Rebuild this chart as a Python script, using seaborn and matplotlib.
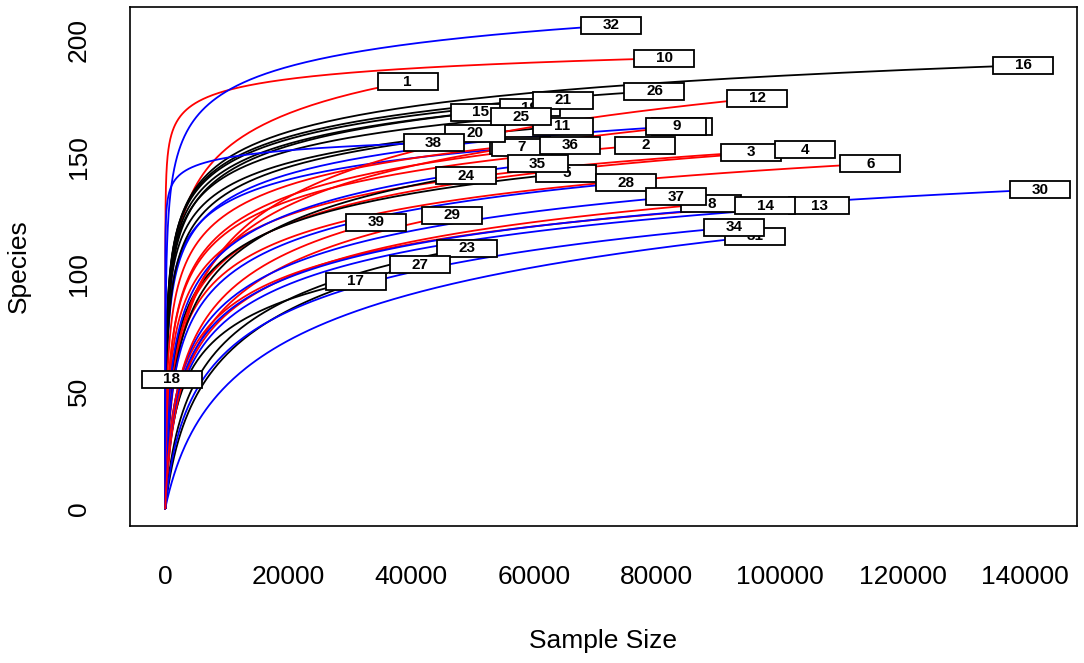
import numpy as np
import pandas as pd
import seaborn as sns
import matplotlib.pyplot as plt
from matplotlib.patches import Rectangle

# sample labels and colour of each rarefaction curve
samples = [str(i) for i in range(1, 40)]
colours = ['red', 'red', 'red', 'red', 'black', 'red', 'blue', 'red', 'blue', 'red',
           'black', 'red', 'blue', 'red', 'black', 'black', 'black', 'red', 'black', 'black',
           'black', 'red', 'black', 'black', 'black', 'black', 'black', 'blue', 'red', 'blue',
           'blue', 'blue', 'red', 'blue', 'blue', 'red', 'blue', 'blue', 'red']

# end point of each curve (total reads, observed species)
total_size = [39460, 78160, 95400, 104180, 65310, 114750, 58000, 88890, 83200, 81250,
              64670, 96370, 106450, 97670, 51330, 139630, 31010, 1090, 59300, 50360,
              64670, 84170, 49050, 48890, 57840, 79630, 41410, 75070, 46620, 142390,
              96050, 72590, 57800, 92640, 60600, 65960, 83200, 43690, 34260]
total_species = [182, 155, 152, 153, 143, 147, 154, 130, 163, 192,
                 163, 175, 129, 129, 169, 189, 97, 55, 171, 160,
                 174, 163, 111, 142, 167, 178, 104, 139, 125, 136,
                 116, 206, 155, 120, 147, 155, 133, 156, 122]

# one point
mid_size = [17000] * 17 + [300] + [17000] * 21
mid_species = [165, 128, 122, 118, 118, 112, 138, 95, 140, 182,
               143, 128, 92, 96, 152, 158, 86, 38, 153, 145,
               155, 125, 85, 118, 150, 156, 80, 110, 100, 95,
               67, 186, 135, 80, 122, 130, 100, 152, 105]

# labels that sit under the others
hidden = ['22', '33']

Q = -0.1


def g(x):
    return ((1 + x) ** Q - 1) / Q


def curve(n_end, s_end, n_mid, s_mid):
    target = s_mid / s_end
    lo, hi = -6.0, 20.0
    for _ in range(200):
        mid = (lo + hi) / 2
        b = np.exp(mid)
        r = g(n_mid / b) / g(n_end / b)
        if r > target:
            lo = mid
        else:
            hi = mid
    b = np.exp((lo + hi) / 2)
    a = s_end / g(n_end / b)
    n = np.concatenate([[0], np.geomspace(1, n_end, 400)])
    return n, a * g(n / b)


rows = []
for name, ne, se, nm, sm in zip(samples, total_size, total_species, mid_size, mid_species):
    n, s = curve(ne, se, nm, sm)
    rows.append(pd.DataFrame({'sample': name, 'size': n, 'species': s}))
curves = pd.concat(rows, ignore_index=True)

sns.set_style('white')
plt.rcParams['font.family'] = ['Liberation Sans', 'DejaVu Sans']
plt.rcParams['text.color'] = 'black'
plt.rcParams['axes.labelcolor'] = 'black'

fig = plt.figure(figsize=(10.84, 6.63), dpi=100)
ax = fig.add_axes([0.1199, 0.2066, 0.8736, 0.7833])

sns.lineplot(data=curves, x='size', y='species', hue='sample',
             palette=dict(zip(samples, colours)), estimator=None, sort=False,
             legend=False, linewidth=1.3, ax=ax)

xlim = (-5740, 148400)
ylim = (-7.5, 214)
ax.set_xlim(*xlim)
ax.set_ylim(*ylim)

# fixed size label boxes (60 x 17 px)
pos = ax.get_position()
bw = 60 / (fig.get_figwidth() * fig.dpi * pos.width) * (xlim[1] - xlim[0])
bh = 17 / (fig.get_figheight() * fig.dpi * pos.height) * (ylim[1] - ylim[0])
order = hidden + [s for s in samples if s not in hidden]
for k, name in enumerate(order):
    i = samples.index(name)
    x, y = total_size[i], total_species[i]
    ax.add_patch(Rectangle((x - bw / 2, y - bh / 2), bw, bh, facecolor='white',
                           edgecolor='black', linewidth=1.3, zorder=5 + 2 * k))
    ax.text(x, y, name, ha='center', va='center', fontsize=11, fontweight='bold',
            color='black', zorder=6 + 2 * k)

ax.set_xticks(np.arange(0, 140001, 20000))
ax.set_yticks(np.arange(0, 201, 50))
ax.set_xticklabels([str(v) for v in np.arange(0, 140001, 20000)])
ax.tick_params(axis='both', direction='out', length=12, width=1.2, labelsize=19,
               pad=16, colors='black')
plt.setp(ax.get_yticklabels(), rotation=90, va='center')
for sp in ax.spines.values():
    sp.set_linewidth(1.2)
    sp.set_color('black')
ax.set_xlabel('Sample Size', fontsize=19, labelpad=29)
ax.set_ylabel('Species', fontsize=19, labelpad=26)

fig.savefig('out.png', dpi=100)
